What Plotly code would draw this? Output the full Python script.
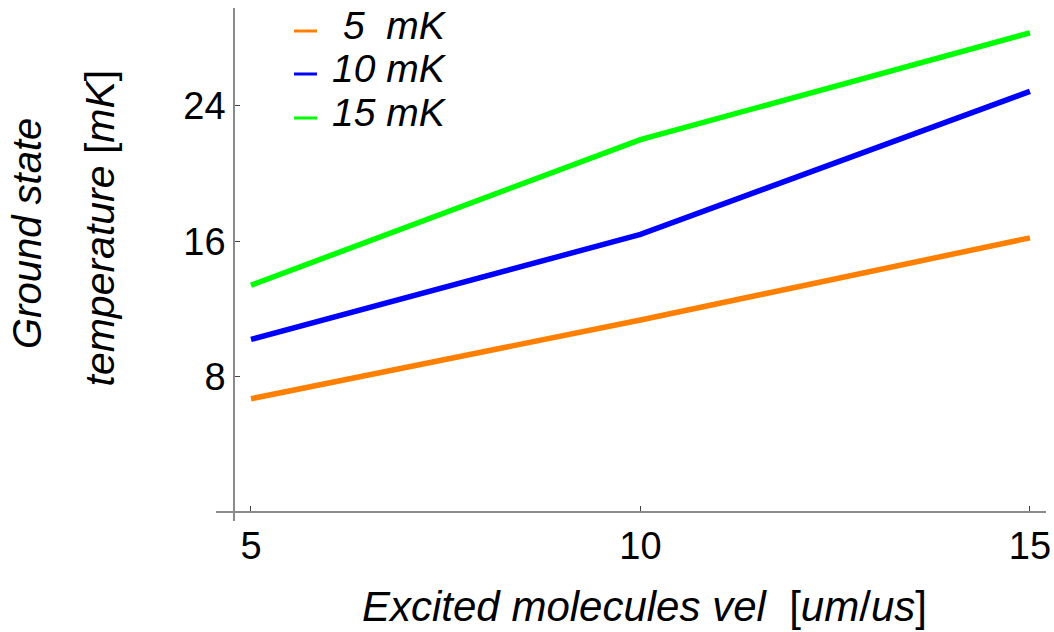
import plotly.graph_objects as go

# ---- data ----
x_vel = [5, 10, 15]
series_names = ["5  mK", "10 mK", "15 mK"]
temp_5mK = [6.7, 11.35, 16.2]
temp_10mK = [10.2, 16.4, 24.85]
temp_15mK = [13.4, 22.0, 28.3]
series_values = [temp_5mK, temp_10mK, temp_15mK]
series_colors = ["#FF8000", "#0000FF", "#00FF00"]
x_ticks = [5, 10, 15]
y_ticks = [8, 16, 24]

# ---- layout geometry (pixels) ----
W, H = 1054, 632
L, R, T, B = 216, 8, 8, 111
pw, ph = W - L - R, H - T - B
x_range = [4.551, 15.206]
y_range = [-0.52, 29.77]
x_axis_at_y = 0.0
y_axis_at_x = 4.782

def px_x(px):
    return (px - L) / pw

def px_y(py):
    return (H - B - py) / ph

FONT = "Liberation Sans, Arial, Helvetica, sans-serif"

fig = go.Figure()
for name, vals, col in zip(series_names, series_values, series_colors):
    fig.add_trace(go.Scatter(x=x_vel, y=vals, mode="lines", name=name,
                             line=dict(color=col, width=5.5), showlegend=False))

xpos = (x_axis_at_y - y_range[0]) / (y_range[1] - y_range[0])
ypos = (y_axis_at_x - x_range[0]) / (x_range[1] - x_range[0])

fig.update_layout(
    width=W, height=H,
    margin=dict(l=L, r=R, t=T, b=B, pad=0, autoexpand=False),
    paper_bgcolor="white", plot_bgcolor="white",
    font=dict(family=FONT, color="black"),
    xaxis=dict(range=x_range, showgrid=False, zeroline=False, automargin=False,
               showline=True, linecolor="#8a8a8a", linewidth=1.5,
               anchor="free", position=xpos,
               tickmode="array", tickvals=x_ticks,
               ticks="inside", ticklen=5, tickwidth=1, tickcolor="#444",
               tickfont=dict(size=38, family=FONT, color="black")),
    yaxis=dict(range=y_range, showgrid=False, zeroline=False, automargin=False,
               showline=True, linecolor="#8a8a8a", linewidth=1.5,
               anchor="free", position=ypos,
               tickmode="array", tickvals=y_ticks,
               ticks="inside", ticklen=5, tickwidth=1, tickcolor="#444",
               tickfont=dict(size=38, family=FONT, color="black")),
    showlegend=False,
)

annotations = [
    dict(text="<i>Excited molecules vel</i>\u00a0\u00a0[<i>um</i>/<i>us</i>]",
         xref="paper", yref="paper", x=px_x(360), y=px_y(607),
         xanchor="left", yanchor="middle", showarrow=False,
         font=dict(size=42, family=FONT, color="black")),
    dict(text="<i>Ground state</i>", textangle=-90,
         xref="paper", yref="paper", x=px_x(27), y=px_y(234),
         xanchor="center", yanchor="middle", showarrow=False,
         font=dict(size=40, family=FONT, color="black")),
    dict(text="<i>temperature</i> [<i>mK</i>]", textangle=-90,
         xref="paper", yref="paper", x=px_x(100), y=px_y(227.5),
         xanchor="center", yanchor="middle", showarrow=False,
         font=dict(size=41, family=FONT, color="black")),
]

legend_rows_px = [30, 73, 117]
shapes = []
for name, col, ry in zip(series_names, series_colors, legend_rows_px):
    shapes.append(dict(type="line", xref="paper", yref="paper",
                       x0=px_x(294), x1=px_x(317), y0=px_y(ry + 1), y1=px_y(ry + 1),
                       line=dict(color=col, width=3)))
    annotations.append(dict(text="<i>" + name.replace(" ", "\u00a0") + "</i>",
                            xref="paper", yref="paper", x=px_x(449), y=px_y(ry - 5),
                            xanchor="right", yanchor="middle", showarrow=False,
                            font=dict(size=39, family=FONT, color="black")))

fig.update_layout(annotations=annotations, shapes=shapes)
fig.write_html("out.html")
